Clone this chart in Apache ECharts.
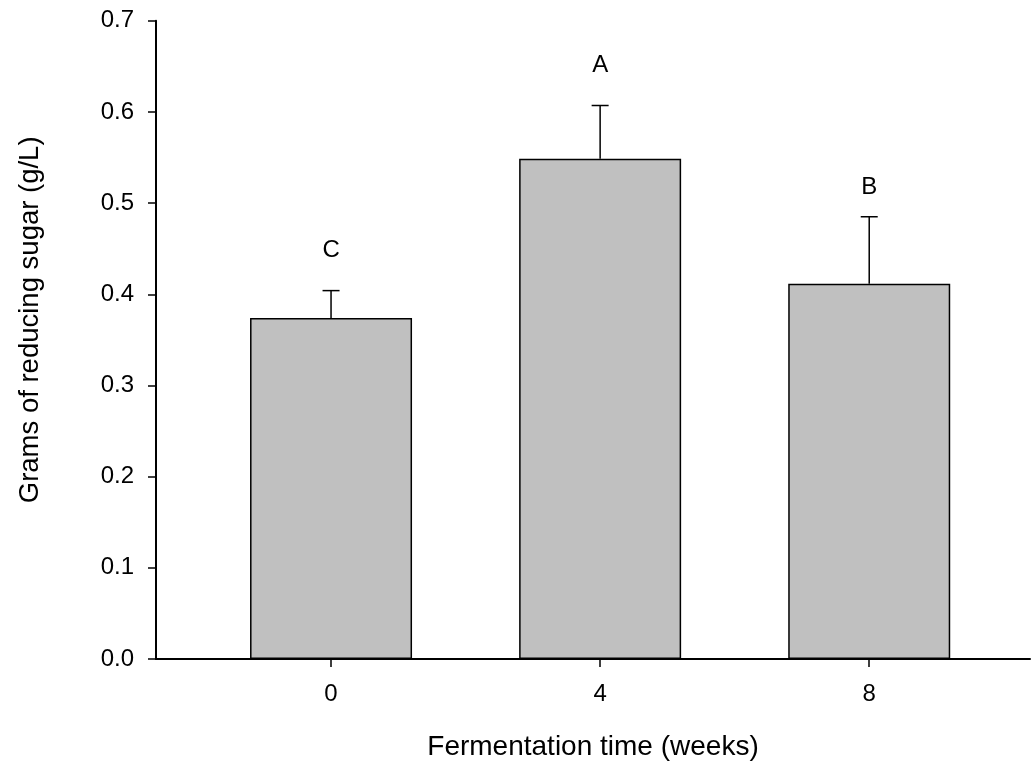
<!DOCTYPE html>
<html>
<head>
<meta charset="utf-8">
<script src="https://cdn.jsdelivr.net/npm/echarts@6/dist/echarts.min.js"></script>
<style>html,body{margin:0;padding:0;background:#fff}#c{width:1032px;height:767px}</style>
</head>
<body>
<div id="c"></div>
<script>
var weeks = [0, 4, 8];
var sugar = [0.374, 0.5485, 0.4116];
var errTop = [0.404, 0.607, 0.485];
var letters = ['C', 'A', 'B'];
var letterPos = [0.448, 0.651, 0.517];
var yTicks = [0, 0.1, 0.2, 0.3, 0.4, 0.5, 0.6, 0.7];

var chart = echarts.init(document.getElementById('c'));
var font = 'Liberation Sans, Arial, sans-serif';
chart.setOption({
  animation: false,
  grid: { left: 156, right: 2, top: 20.7, bottom: 108, containLabel: false },
  xAxis: {
    type: 'value', min: -2.602, max: 10.39,
    name: 'Fermentation time (weeks)', nameLocation: 'middle', nameGap: 74,
    nameTextStyle: { fontFamily: font, fontSize: 28, color: '#000' },
    splitLine: { show: false },
    axisLine: { lineStyle: { color: '#000', width: 2 } },
    axisTick: { show: true, customValues: weeks, length: 8, lineStyle: { color: '#000', width: 1.5 } },
    axisLabel: { customValues: weeks, margin: 23, fontFamily: font, fontSize: 24, color: '#000' }
  },
  yAxis: {
    type: 'value', min: 0, max: 0.7, interval: 0.1,
    name: 'Grams of reducing sugar (g/L)', nameLocation: 'middle', nameGap: 112,
    nameTextStyle: { fontFamily: font, fontSize: 27.5, color: '#000', padding: [0, 0, 0, 40] },
    splitLine: { show: false },
    axisLine: { show: true, onZero: false, lineStyle: { color: '#000', width: 2 } },
    axisTick: { show: true, length: 8, lineStyle: { color: '#000', width: 1.5 } },
    axisLabel: { margin: 22, fontFamily: font, fontSize: 24, color: '#000',
      formatter: function (v) { return v.toFixed(1); } }
  },
  series: [
    {
      type: 'bar', barWidth: 162,
      data: weeks.map(function (w, i) { return [w, sugar[i]]; }),
      itemStyle: { color: '#c0c0c0', borderColor: '#000', borderWidth: 1.5 },
      z: 2
    },
    {
      type: 'custom',
      data: weeks.map(function (w, i) { return [w, sugar[i], errTop[i]]; }),
      renderItem: function (params, api) {
        var b = api.coord([api.value(0), api.value(1)]);
        var t = api.coord([api.value(0), api.value(2)]);
        var hw = 8.5;
        return {
          type: 'group',
          children: [
            { type: 'line', shape: { x1: b[0], y1: b[1], x2: t[0], y2: t[1] }, style: { stroke: '#000', lineWidth: 1.5 } },
            { type: 'line', shape: { x1: t[0] - hw, y1: t[1], x2: t[0] + hw, y2: t[1] }, style: { stroke: '#000', lineWidth: 1.5 } }
          ]
        };
      },
      z: 3
    },
    {
      type: 'custom',
      data: weeks.map(function (w, i) { return [w, letterPos[i]]; }),
      renderItem: function (params, api) {
        var p = api.coord([api.value(0), api.value(1)]);
        return {
          type: 'text',
          style: { x: p[0], y: p[1], text: letters[params.dataIndex], fill: '#000',
            font: '24px ' + font, align: 'center', verticalAlign: 'middle' }
        };
      },
      z: 4
    }
  ]
});
</script>
</body>
</html>
